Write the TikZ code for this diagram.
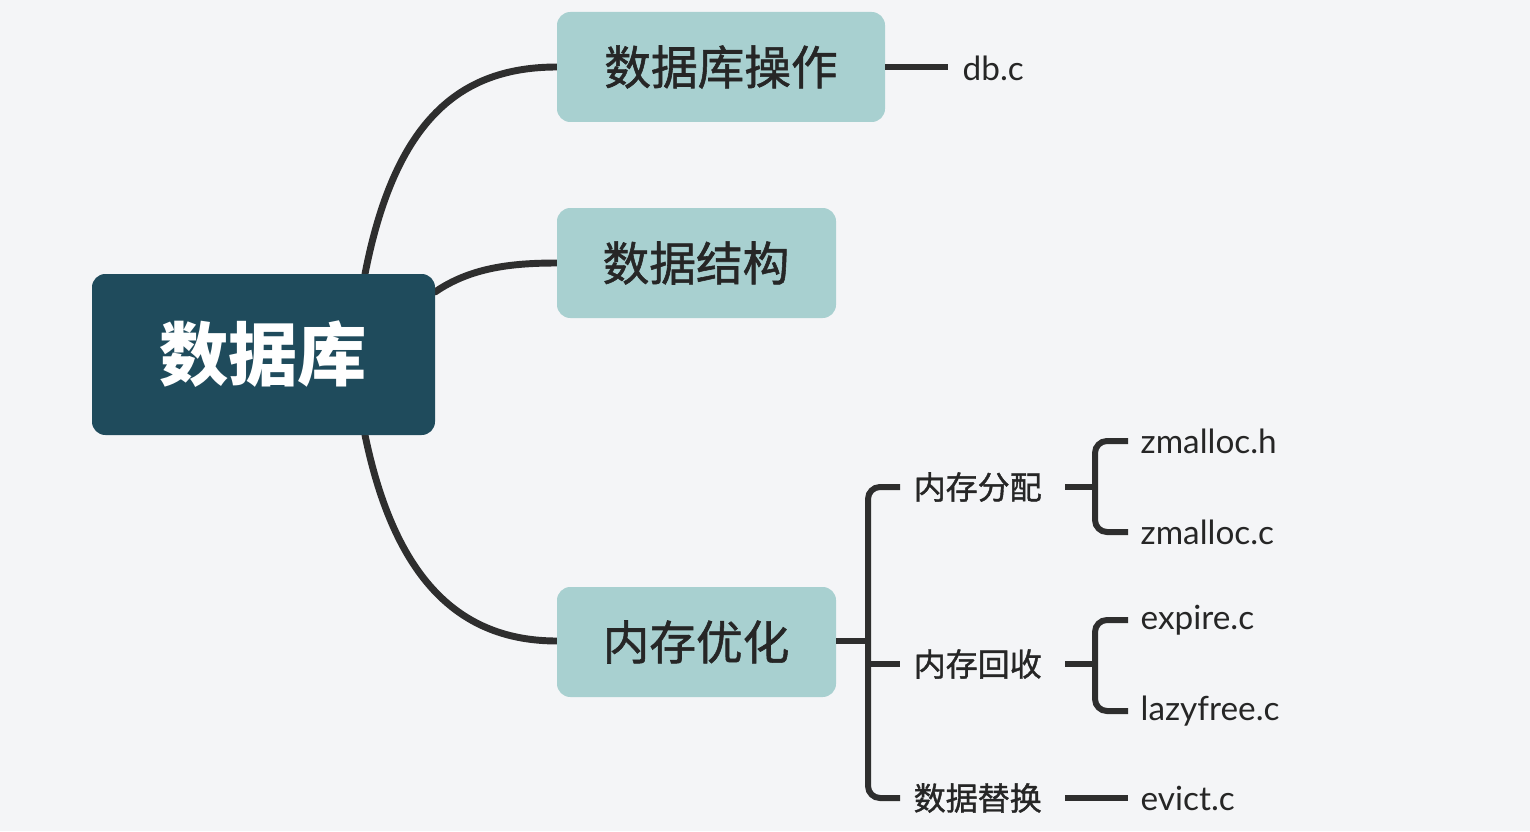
\documentclass[tikz,border=0pt]{standalone}
\usepackage{fontspec}
\setmainfont{Lato}
\newfontfamily\cjk{Noto Sans CJK SC}
\newfontfamily\cjkmed[FakeBold=1.2]{Noto Sans CJK SC}
\definecolor{bg}{HTML}{F4F5F7}
\definecolor{rootc}{HTML}{1F4B5C}
\definecolor{subc}{HTML}{A8D0D0}
\definecolor{linec}{HTML}{2E2E2E}
\begin{document}
\begin{tikzpicture}[x=0.75pt,y=-0.75pt,
  conn/.style={draw=linec,line width=5.2pt,line cap=round},
  brk/.style={draw=linec,line width=4.5pt,rounded corners=9pt},
  box/.style={fill=subc,rounded corners=10pt},
  big/.style={font=\cjkmed\fontsize{35}{40}\selectfont,text=black!85},
  mid/.style={font=\cjkmed\fontsize{24}{28}\selectfont,text=black!85},
  lat/.style={font=\fontsize{25}{28}\selectfont,text=black!85,anchor=west}]
\fill[bg] (0,0) rectangle (1530,831);
\useasboundingbox (0,0) rectangle (1530,831);
% curves
\draw[conn] (365,274) .. controls (395,120) and (460,67) .. (557,67);
\draw[conn] (435,292) .. controls (470,268) and (510,263) .. (557,263);
\draw[conn] (365,435) .. controls (395,580) and (460,641) .. (557,641);
% boxes
\fill[rootc,rounded corners=10pt] (92,274) rectangle (435,435);
\node[font=\cjk\fontsize{52}{60}\selectfont\bfseries,text=white] (root) at (263,354) {数据库};
\fill[box] (557,12) rectangle (885,122);
\node[big] (n1) at (721,67) {数据库操作};
\fill[box] (557,208) rectangle (836,318);
\node[big] (n2) at (696,263) {数据结构};
\fill[box] (557,587) rectangle (836,697);
\node[big] (n3) at (696,642) {内存优化};
% db.c
\draw[conn,line cap=butt] (885,67) -- (948,67);
\node[lat] (dbc) at (958,68) {db.c};
% bracket for n3
\draw[brk] (836,641) -- (868,641);
\draw[brk] (900,487) -- (868,487) -- (868,798) -- (900,798);
\draw[brk] (868,664) -- (900,664);
\node[mid,anchor=west] (a) at (909,487) {内存分配};
\node[mid,anchor=west] (b) at (909,664) {内存回收};
\node[mid,anchor=west] (c) at (909,798) {数据替换};
% sub brackets
\draw[brk] (1065,487) -- (1095,487);
\draw[brk] (1128,441) -- (1095,441) -- (1095,532) -- (1128,532);
\node[lat] (z1) at (1136,441) {zmalloc.h};
\node[lat] (z2) at (1136,532) {zmalloc.c};
\draw[brk] (1065,664) -- (1095,664);
\draw[brk] (1128,620) -- (1095,620) -- (1095,711) -- (1128,711);
\node[lat] (e1) at (1136,620) {expire.c};
\node[lat] (e2) at (1136,711) {lazyfree.c};
\draw[brk] (1065,798) -- (1128,798);
\node[lat] (ev) at (1136,798) {evict.c};
\end{tikzpicture}
\end{document}
